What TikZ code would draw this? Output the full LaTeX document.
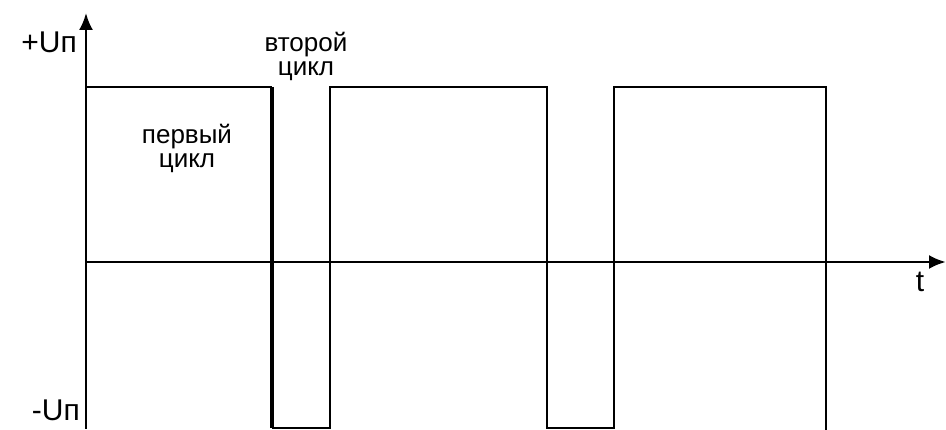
\documentclass[tikz,border=0pt]{standalone}
\usepackage{fontspec}
\setmainfont{Liberation Sans}
\usetikzlibrary{arrows.meta,positioning}

\begin{document}
\begin{tikzpicture}[x=1pt,y=1pt,>={Latex[length=17pt,width=14pt]},
                    every node/.style={inner sep=0pt, align=center},
                    lbl/.style={font=\fontsize{26}{24}\selectfont},
                    biglbl/.style={font=\fontsize{30}{30}\selectfont},
                    wave/.style={line width=2.4pt, line join=miter}]
\useasboundingbox (0,0) rectangle (946,430);
% axes
\coordinate (O) at (86,168);
\coordinate (ytop) at (86,417);
\coordinate (ybot) at (86,1);
\coordinate (xend) at (946,168);
\draw[line width=2.4pt] (ybot) -- (O);
\draw[line width=2.4pt,->] (O) -- (ytop);
\draw[line width=2.8pt,->] (O) -- (xend);
% rectangular pulses
\draw[wave] (O |- 0,343) -- (272,343);
\draw[line width=3.2pt] (272,343) -- (272,2);
\draw[wave] (272,2) -- (330,2) -- (330,343) -- (547,343) -- (547,2)
            -- (614,2) -- (614,343) -- (826,343) -- (826,0);
% labels
\node[biglbl, anchor=east] (uplus) at (77,388) {+Uп};
\node[biglbl, anchor=east] (uminus) at (80,20) {-Uп};
\node[lbl] (second) at (306,374) {второй\\цикл};
\node[lbl] (first) at (187,282) {первый\\цикл};
\node[biglbl] (t) at (920,148) {t};
\end{tikzpicture}
\end{document}
